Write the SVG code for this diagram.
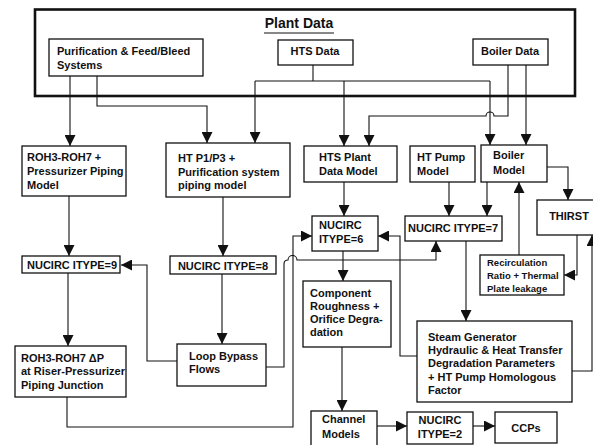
<svg xmlns="http://www.w3.org/2000/svg" width="593" height="445" viewBox="0 0 593 445">
<style>
text{font-family:"Liberation Sans",Arial,Helvetica,sans-serif;font-weight:bold;font-size:11px;fill:#111}
.box{fill:#fff;stroke:#111;stroke-width:1.3}
.c{fill:none;stroke:#111;stroke-width:1.1}
.a{marker-end:url(#ah)}
.sm{font-size:9.5px}
.mid{text-anchor:middle}
</style>
<defs>
<marker id="ah" markerUnits="userSpaceOnUse" markerWidth="11" markerHeight="11" viewBox="0 0 10 10" refX="10" refY="5" orient="auto">
<path d="M0,0 L10,5 L0,10 z" fill="#111"/>
</marker>
</defs>
<rect width="593" height="445" fill="#fff"/>

<g id="plant-data">
<rect x="35" y="9.5" width="540" height="86.5" fill="none" stroke="#111" stroke-width="2.6"/>
<text x="299" y="28" class="mid" style="font-size:14px">Plant Data</text>
<line x1="264" y1="33" x2="334" y2="33" stroke="#111" stroke-width="1"/>
</g>

<g id="connectors">
<path class="c a" d="M70,76 V146"/>
<path class="c a" d="M97,76 V106 H207 V143"/>
<path class="c" d="M313,65 V81"/>
<path class="c" d="M255,81 H490"/>
<path class="c a" d="M255,81 V143"/>
<path class="c a" d="M344,81 V146"/>
<path class="c a" d="M490,81 V145"/>
<path class="c a" d="M508,65 V116 H494 A4,4 0 0 0 486,116 H369 V146"/>
<path class="c a" d="M526,65 V145"/>
<path class="c a" d="M69,196 V256"/>
<path class="c a" d="M223,197 V256"/>
<path class="c a" d="M344,182 V216"/>
<path class="c a" d="M449,182 V216"/>
<path class="c a" d="M487,182 V216"/>
<path class="c a" d="M547,167 H568 V200"/>
<path class="c a" d="M577,235 V275 H564"/>
<path class="c a" d="M519,255 V182"/>
<path class="c a" d="M68,273 V346"/>
<path class="c a" d="M222,274 V344"/>
<path class="c a" d="M177,361 H147 V265 H121"/>
<path class="c a" d="M67,397 V427 H293 V236 H312"/>
<path class="c a" d="M266,367 H284 V264 Q284,260 288,260 A4.5,4.5 0 0 1 297,260 H436 V241"/>
<path class="c a" d="M417,356 H400 V236 H378"/>
<path class="c a" d="M343,251 V281"/>
<path class="c a" d="M466,241 V321"/>
<path class="c a" d="M572,371 H592 V235"/>
<path class="c a" d="M342,347 V411"/>
<path class="c a" d="M377,426 H407"/>
<path class="c a" d="M473,426 H495"/>
</g>

<g id="purification">
<rect class="box" x="49" y="39" width="154" height="37"/>
<text x="57" y="55">Purification &amp; Feed/Bleed</text>
<text x="57" y="69">Systems</text>
</g>
<g id="hts-data">
<rect class="box" x="278" y="40" width="75" height="25"/>
<text x="315" y="55" class="mid">HTS Data</text>
</g>
<g id="boiler-data">
<rect class="box" x="473" y="39" width="75" height="26"/>
<text x="510" y="55" class="mid">Boiler Data</text>
</g>

<g id="roh-piping">
<rect class="box" x="22" y="146" width="104" height="50"/>
<text x="27" y="161">ROH3-ROH7 +</text>
<text x="27" y="175">Pressurizer Piping</text>
<text x="27" y="189">Model</text>
</g>
<g id="ht-p1p3">
<rect class="box" x="166" y="143" width="124" height="54"/>
<text x="178" y="162">HT P1/P3 +</text>
<text x="178" y="176">Purification system</text>
<text x="178" y="189">piping model</text>
</g>
<g id="hts-plant-model">
<rect class="box" x="304" y="146" width="93" height="36"/>
<text x="319" y="161">HTS Plant</text>
<text x="319" y="175">Data Model</text>
</g>
<g id="ht-pump-model">
<rect class="box" x="410" y="146" width="65" height="36"/>
<text x="417" y="161">HT Pump</text>
<text x="417" y="175">Model</text>
</g>
<g id="boiler-model">
<rect class="box" x="481" y="145" width="66" height="37"/>
<text x="493" y="159">Boiler</text>
<text x="493" y="174">Model</text>
</g>
<g id="thirst">
<rect class="box" x="537" y="200" width="70" height="35"/>
<text x="569" y="220" class="mid">THIRST</text>
</g>

<g id="nucirc-9">
<rect class="box" x="22" y="256" width="98" height="17"/>
<text x="27" y="269">NUCIRC ITYPE=9</text>
</g>
<g id="nucirc-8">
<rect class="box" x="170" y="256" width="106" height="18"/>
<text x="223" y="270" class="mid">NUCIRC ITYPE=8</text>
</g>
<g id="nucirc-6">
<rect class="box" x="312" y="216" width="66" height="35"/>
<text x="319" y="229">NUCIRC</text>
<text x="319" y="243">ITYPE=6</text>
</g>
<g id="nucirc-7">
<rect class="box" x="405" y="216" width="97" height="25"/>
<text x="408" y="232">NUCIRC ITYPE=7</text>
</g>
<g id="recirculation">
<rect class="box" x="480" y="255" width="84" height="40"/>
<text x="487" y="266" class="sm">Recirculation</text>
<text x="487" y="279" class="sm">Ratio + Thermal</text>
<text x="487" y="292" class="sm">Plate leakage</text>
</g>

<g id="component-roughness">
<rect class="box" x="303" y="281" width="88" height="66"/>
<text x="310" y="297">Component</text>
<text x="310" y="310">Roughness +</text>
<text x="310" y="323">Orifice Degra-</text>
<text x="310" y="336">dation</text>
</g>
<g id="roh-dp">
<rect class="box" x="15" y="346" width="111" height="51"/>
<text x="21" y="362">ROH3-ROH7 ΔP</text>
<text x="21" y="375">at Riser-Pressurizer</text>
<text x="21" y="389">Piping Junction</text>
</g>
<g id="loop-bypass">
<rect class="box" x="177" y="344" width="89" height="42"/>
<text x="189" y="360">Loop Bypass</text>
<text x="189" y="373">Flows</text>
</g>
<g id="steam-generator">
<rect class="box" x="417" y="321" width="155" height="81"/>
<text x="428" y="341">Steam Generator</text>
<text x="428" y="354">Hydraulic &amp; Heat Transfer</text>
<text x="428" y="367">Degradation Parameters</text>
<text x="428" y="381">+ HT Pump Homologous</text>
<text x="428" y="394">Factor</text>
</g>
<g id="channel-models">
<rect class="box" x="311" y="411" width="66" height="40"/>
<text x="322" y="423">Channel</text>
<text x="322" y="438">Models</text>
</g>
<g id="nucirc-2">
<rect class="box" x="407" y="412" width="66" height="32"/>
<text x="440" y="424" class="mid">NUCIRC</text>
<text x="440" y="438" class="mid">ITYPE=2</text>
</g>
<g id="ccps">
<rect class="box" x="495" y="412" width="62" height="31"/>
<text x="526" y="432" class="mid">CCPs</text>
</g>
</svg>
